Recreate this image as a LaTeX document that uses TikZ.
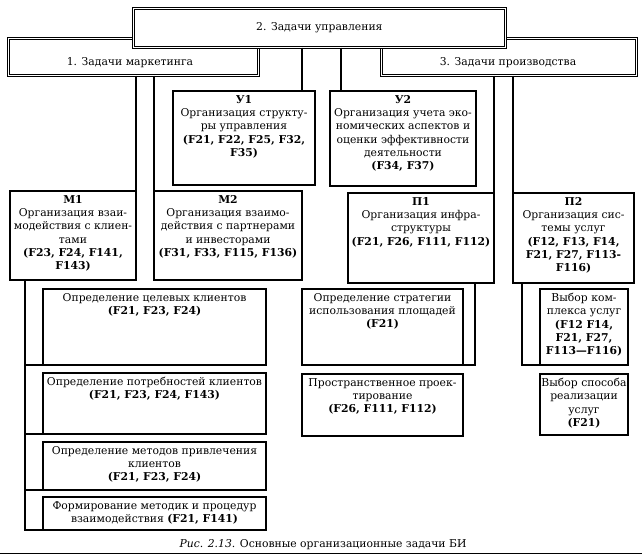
\documentclass[tikz,border=0pt]{standalone}
\usepackage{fontspec}
\setmainfont{DejaVu Serif}
\usetikzlibrary{calc}
\begin{document}
\begin{tikzpicture}[x=1pt,y=-1pt,
  bx/.style={draw, line width=1.1pt, rectangle, inner sep=0pt, outer sep=0pt, anchor=north west, fill=white},
  hd/.style={draw, double, double distance=1.3pt, line width=0.7pt, rectangle, inner sep=0pt, anchor=north west, fill=white},
  tx/.style={align=center, inner sep=0pt, anchor=north, font=\fontsize{10.8}{13.3}\selectfont},
  ln/.style={line width=1.1pt}]
\useasboundingbox (0,0) rectangle (642,557);
% header boxes
\node[hd, minimum width=250, minimum height=37] (b1) at (8,38) {};
\node[hd, minimum width=255, minimum height=37] (b3) at (381,38) {};
\node[hd, minimum width=372, minimum height=39] (b2) at (133,8) {};
\node[tx, anchor=center] (t2) at (b2.center) {2. Задачи управления};
\node[tx, anchor=center] (t1) at (130,63) {1. Задачи маркетинга};
\node[tx, anchor=center] (t3) at (508,63) {3. Задачи производства};
% second level
\node[bx, minimum width=142, minimum height=94] (u1) at (173,91) {};
\node[bx, minimum width=146, minimum height=95] (u2) at (330,91) {};
\node[bx, minimum width=126, minimum height=89] (m1) at (10,191) {};
\node[bx, minimum width=148, minimum height=89] (m2) at (154,191) {};
\node[bx, minimum width=146, minimum height=90] (p1) at (348,193) {};
\node[bx, minimum width=121, minimum height=90] (p2) at (513,193) {};
\node[tx] (u1t) at ([yshift=-4pt]u1.north) {\textbf{У1}\\Организация структу-\\ры управления\\\textbf{(F21, F22, F25, F32,}\\\textbf{F35)}};
\node[tx] (u2t) at ([yshift=-4pt]u2.north) {\textbf{У2}\\Организация учета эко-\\номических аспектов и\\оценки эффективности\\деятельности\\\textbf{(F34, F37)}};
\node[tx] (m1t) at ([yshift=-4pt]m1.north) {\textbf{М1}\\Организация взаи-\\модействия с клиен-\\тами\\\textbf{(F23, F24, F141,}\\\textbf{F143)}};
\node[tx] (m2t) at ([yshift=-4pt]m2.north) {\textbf{М2}\\Организация взаимо-\\действия с партнерами\\и инвесторами\\\textbf{(F31, F33, F115, F136)}};
\node[tx] (p1t) at ([yshift=-4pt]p1.north) {\textbf{П1}\\Организация инфра-\\структуры\\\textbf{(F21, F26, F111, F112)}};
\node[tx] (p2t) at ([yshift=-4pt]p2.north) {\textbf{П2}\\Организация сис-\\темы услуг\\\textbf{(F12, F13, F14,}\\\textbf{F21, F27, F113-}\\\textbf{F116)}};
% third level
\node[bx, minimum width=223, minimum height=76] (sa) at (43,289) {};
\node[bx, minimum width=223, minimum height=61] (sb) at (43,373) {};
\node[bx, minimum width=223, minimum height=48] (sc) at (43,442) {};
\node[bx, minimum width=223, minimum height=33] (sd) at (43,497) {};
\node[bx, minimum width=161, minimum height=76] (qa) at (302,289) {};
\node[bx, minimum width=161, minimum height=62] (qb) at (302,374) {};
\node[bx, minimum width=88, minimum height=76] (ra) at (540,289) {};
\node[bx, minimum width=88, minimum height=61] (rb) at (540,374) {};
\node[tx] (sat) at ([yshift=-4pt]sa.north) {Определение целевых клиентов\\\textbf{(F21, F23, F24)}};
\node[tx] (sbt) at ([yshift=-4pt]sb.north) {Определение потребностей клиентов\\\textbf{(F21, F23, F24, F143)}};
\node[tx] (sct) at ([yshift=-4pt]sc.north) {Определение методов привлечения\\клиентов\\\textbf{(F21, F23, F24)}};
\node[tx] (sdt) at ([yshift=-4pt]sd.north) {Формирование методик и процедур\\взаимодействия \textbf{(F21, F141)}};
\node[tx] (qat) at ([yshift=-4pt]qa.north) {Определение стратегии\\использования площадей\\\textbf{(F21)}};
\node[tx] (qbt) at ([yshift=-4pt]qb.north) {Пространственное проек-\\тирование\\\textbf{(F26, F111, F112)}};
\node[tx] (rat) at ([yshift=-4pt]ra.north) {Выбор ком-\\плекса услуг\\\textbf{(F12 F14,}\\\textbf{F21, F27,}\\\textbf{F113—F116)}};
\node[tx] (rbt) at ([yshift=-4pt]rb.north) {Выбор способа\\реализации\\услуг\\\textbf{(F21)}};
% connectors
\draw[ln] (b1.south -| m1.north east) -- (m1.north east);
\draw[ln] (b1.south -| m2.north west) -- (m2.north west);
\path (u1.north east) ++(-13,0) coordinate (cu1);
\path (u2.north west) ++(11,0) coordinate (cu2);
\draw[ln] (cu1 |- b2.south) -- (cu1);
\draw[ln] (cu2 |- b2.south) -- (cu2);
\draw[ln] (b3.south -| p1.north east) -- (p1.north east);
\draw[ln] (b3.south -| p2.north west) -- (p2.north west);
\path (m1.south west) ++(15,0) coordinate (mt);
\draw[ln] (mt) |- (sd.south west);
\foreach \s in {sa,sb,sc} \draw[ln] (\s.south west -| mt) -- (\s.south west);
\path (p1.south east) ++(-19,0) coordinate (pt);
\draw[ln] (pt) |- (qa.south east);
\path (p2.south west) ++(9,0) coordinate (rt);
\draw[ln] (rt) |- (ra.south west);
% caption
\node[font=\fontsize{10.8}{13}\selectfont, inner sep=0pt] (cap) at (323,545) {\textit{Рис. 2.13.} Основные организационные задачи БИ};
\draw[line width=0.6pt] (0,553) -- (642,553);
\end{tikzpicture}
\end{document}
